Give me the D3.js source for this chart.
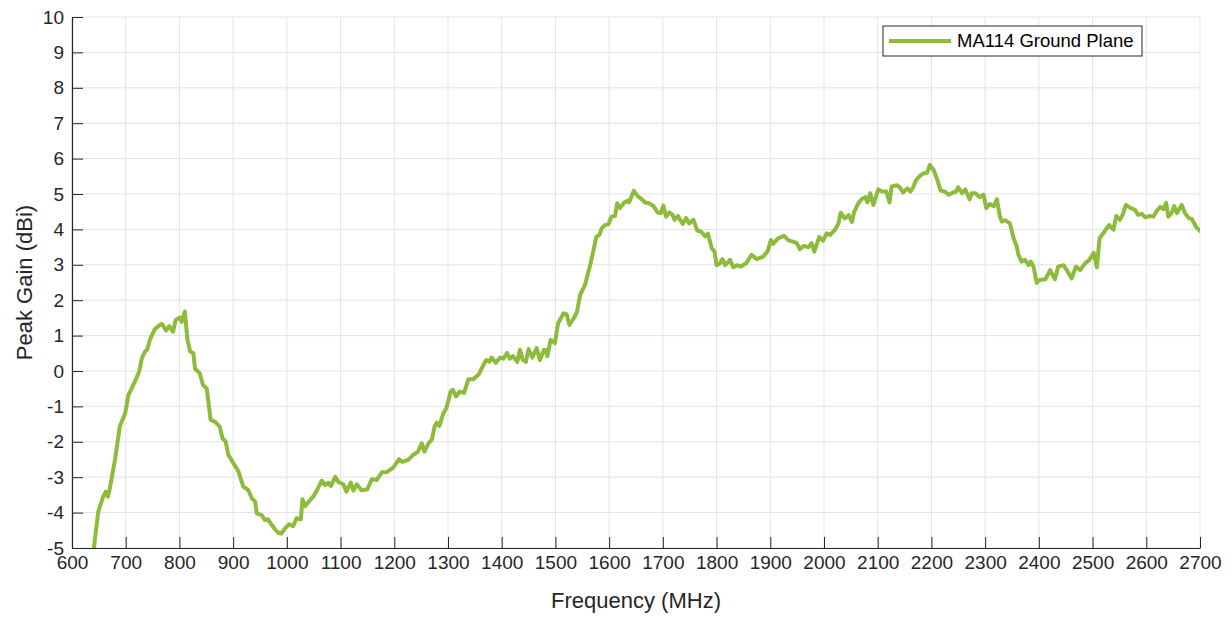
<!DOCTYPE html>
<html><head><meta charset="utf-8">
<script src="https://cdn.jsdelivr.net/npm/d3@7/dist/d3.min.js"></script>
<style>body{margin:0;background:#fff;} svg{display:block;}</style>
</head><body>
<svg id="chart" width="1232" height="617"></svg>
<script>
const seriesName = "MA114 Ground Plane";
const xTicks = [600,700,800,900,1000,1100,1200,1300,1400,1500,1600,1700,1800,1900,2000,2100,2200,2300,2400,2500,2600,2700];
const yTicks = [-5,-4,-3,-2,-1,0,1,2,3,4,5,6,7,8,9,10];
const freqMHz = [640,643,649,658,663,667,670,680,689,699,705,717,725,730,736,740,745,754,765,768,775,781,788,793,801,804,810,815,820,826,829,838,844,851,858,866,875,880,886,891,900,910,919,928,935,941,944,953,959,965,972,978,984,990,997,1004,1012,1018,1026,1029,1034,1040,1049,1058,1065,1071,1077,1082,1090,1096,1105,1111,1119,1124,1130,1139,1150,1158,1167,1177,1186,1198,1209,1215,1226,1235,1244,1251,1256,1264,1270,1275,1279,1284,1291,1297,1305,1309,1315,1322,1330,1338,1347,1357,1363,1371,1377,1381,1389,1397,1403,1410,1415,1421,1429,1434,1439,1445,1450,1457,1465,1471,1479,1483,1485,1491,1499,1505,1515,1521,1526,1534,1540,1546,1555,1564,1571,1576,1582,1586,1592,1599,1604,1611,1615,1620,1628,1634,1637,1646,1653,1661,1667,1674,1682,1690,1696,1701,1706,1712,1718,1722,1728,1737,1743,1749,1757,1764,1771,1779,1784,1791,1796,1800,1806,1811,1816,1825,1831,1838,1845,1855,1865,1875,1887,1895,1901,1905,1915,1926,1933,1943,1949,1955,1962,1971,1977,1982,1991,1998,2005,2011,2021,2027,2031,2039,2046,2052,2056,2064,2070,2077,2081,2086,2092,2101,2108,2116,2122,2126,2135,2141,2147,2155,2161,2166,2171,2177,2185,2192,2197,2204,2211,2217,2225,2232,2240,2246,2250,2257,2263,2271,2275,2282,2290,2297,2302,2309,2316,2322,2327,2331,2337,2346,2353,2359,2362,2368,2374,2381,2385,2390,2396,2402,2412,2421,2430,2436,2446,2452,2461,2469,2477,2486,2494,2502,2508,2513,2520,2526,2531,2539,2544,2551,2556,2562,2571,2579,2585,2592,2598,2607,2613,2621,2626,2632,2637,2641,2647,2652,2657,2666,2672,2679,2685,2693,2700];
const gainDBi = [-5.15,-4.7,-3.97,-3.55,-3.41,-3.55,-3.35,-2.51,-1.57,-1.19,-0.68,-0.30,-0.02,0.36,0.55,0.6,0.88,1.18,1.32,1.33,1.14,1.27,1.11,1.44,1.51,1.39,1.68,0.88,0.55,0.5,0.07,-0.07,-0.40,-0.5,-1.38,-1.43,-1.57,-1.9,-1.99,-2.37,-2.59,-2.84,-3.27,-3.36,-3.6,-3.69,-4.02,-4.07,-4.21,-4.19,-4.35,-4.47,-4.57,-4.59,-4.44,-4.33,-4.38,-4.16,-4.19,-3.62,-3.82,-3.71,-3.55,-3.31,-3.1,-3.22,-3.16,-3.25,-2.99,-3.14,-3.2,-3.41,-3.15,-3.38,-3.2,-3.37,-3.34,-3.06,-3.08,-2.86,-2.86,-2.73,-2.49,-2.57,-2.51,-2.37,-2.28,-2.04,-2.28,-2.04,-1.94,-1.57,-1.46,-1.55,-1.21,-1.05,-0.58,-0.53,-0.72,-0.58,-0.62,-0.23,-0.23,-0.1,0.08,0.31,0.26,0.38,0.23,0.38,0.35,0.51,0.35,0.42,0.26,0.6,0.32,0.26,0.62,0.38,0.65,0.31,0.6,0.59,0.42,0.88,0.79,1.35,1.63,1.6,1.3,1.49,1.66,2.15,2.43,2.95,3.42,3.78,3.85,4.03,4.12,4.15,4.36,4.38,4.74,4.6,4.76,4.81,4.76,5.09,4.94,4.85,4.76,4.74,4.67,4.48,4.46,4.67,4.36,4.48,4.41,4.27,4.38,4.15,4.32,4.17,4.27,3.97,3.94,3.8,3.88,3.47,3.38,2.99,3.04,3.16,2.99,3.14,2.93,2.99,2.95,3.04,3.28,3.16,3.23,3.38,3.7,3.59,3.75,3.82,3.7,3.65,3.62,3.44,3.53,3.5,3.61,3.37,3.79,3.68,3.89,3.84,4.0,4.17,4.47,4.31,4.4,4.21,4.49,4.74,4.85,4.91,4.76,5.02,4.69,5.13,5.07,5.07,4.76,5.21,5.25,5.19,5.04,5.16,5.07,5.19,5.38,5.49,5.58,5.6,5.82,5.68,5.4,5.1,5.07,4.98,5.04,5.07,5.19,5.02,5.13,4.85,5.02,5.02,4.91,4.98,4.6,4.72,4.65,4.85,4.4,4.22,4.26,4.17,3.75,3.51,3.28,3.09,3.14,2.99,3.09,2.95,2.49,2.57,2.59,2.85,2.59,2.95,2.99,2.85,2.61,2.95,2.85,3.04,3.14,3.34,2.93,3.75,3.89,4.03,4.12,3.99,4.38,4.27,4.41,4.69,4.6,4.55,4.41,4.44,4.34,4.38,4.36,4.55,4.64,4.57,4.75,4.36,4.46,4.66,4.46,4.69,4.46,4.32,4.29,4.06,3.96];

const data = freqMHz.map((f,i)=>({f, g: gainDBi[i]}));

const W = 1232, H = 617;
const margin = {left:72, right:32, top:17, bottom:69};
const iw = W - margin.left - margin.right, ih = H - margin.top - margin.bottom;
const svg = d3.select("#chart");
const g = svg.append("g").attr("transform",`translate(${margin.left},${margin.top})`);

const x = d3.scaleLinear().domain([600,2700]).range([0,iw]);
const y = d3.scaleLinear().domain([-5,10]).range([ih,0]);
const font = "'Liberation Sans', Arial, Helvetica, sans-serif";
const textCol = "#262626";

// grid
g.append("g").selectAll("line").data(xTicks).join("line")
  .attr("x1",d=>x(d)).attr("x2",d=>x(d)).attr("y1",0).attr("y2",ih)
  .attr("stroke","#e3e3e3").attr("stroke-width",1);
g.append("g").selectAll("line").data(yTicks).join("line")
  .attr("x1",0).attr("x2",iw).attr("y1",d=>y(d)).attr("y2",d=>y(d))
  .attr("stroke","#e3e3e3").attr("stroke-width",1);

// clip
svg.append("defs").append("clipPath").attr("id","clip").append("rect")
  .attr("x",0).attr("y",0).attr("width",iw).attr("height",ih);

const line = d3.line().x(d=>x(d.f)).y(d=>y(d.g));
g.append("path").datum(data).attr("clip-path","url(#clip)")
  .attr("fill","none").attr("stroke","#8dbb3c").attr("stroke-width",4)
  .attr("stroke-linejoin","round").attr("stroke-linecap","round").attr("d",line);

// axes
const fmt = d => String(d);
const xAxis = d3.axisBottom(x).tickValues(xTicks).tickSizeInner(-11).tickSizeOuter(0).tickFormat(fmt);
const yAxis = d3.axisLeft(y).tickValues(yTicks).tickSizeInner(-11).tickSizeOuter(0).tickFormat(fmt);
const gx = g.append("g").attr("transform",`translate(0,${ih})`).call(xAxis);
const gy = g.append("g").call(yAxis);
[gx,gy].forEach(a=>{
  a.select(".domain").attr("stroke",textCol).attr("stroke-width",1.2);
  a.selectAll(".tick line").attr("stroke",textCol).attr("stroke-width",1);
  a.selectAll(".tick text").attr("fill",textCol).attr("font-family",font).attr("font-size",19);
});
gx.selectAll(".tick text").attr("y",8).attr("dy","0.71em");
gy.selectAll(".tick text").attr("x",-8);

// axis titles
svg.append("text").attr("x",margin.left+iw/2).attr("y",608).attr("text-anchor","middle")
  .attr("font-family",font).attr("font-size",22).attr("fill",textCol).text("Frequency (MHz)");
svg.append("text").attr("transform",`translate(32,${margin.top+ih/2}) rotate(-90)`).attr("text-anchor","middle")
  .attr("font-family",font).attr("font-size",22).attr("fill",textCol).text("Peak Gain (dBi)");

// legend
const lg = svg.append("g");
lg.append("rect").attr("x",883).attr("y",26).attr("width",259).attr("height",30)
  .attr("fill","#fff").attr("stroke","#262626").attr("stroke-width",1);
lg.append("line").attr("x1",889).attr("x2",951).attr("y1",41).attr("y2",41)
  .attr("stroke","#8dbb3c").attr("stroke-width",4);
lg.append("text").attr("x",957).attr("y",41).attr("dy","0.35em")
  .attr("font-family",font).attr("font-size",18.5).attr("fill","#000").text(seriesName);
</script>
</body></html>
